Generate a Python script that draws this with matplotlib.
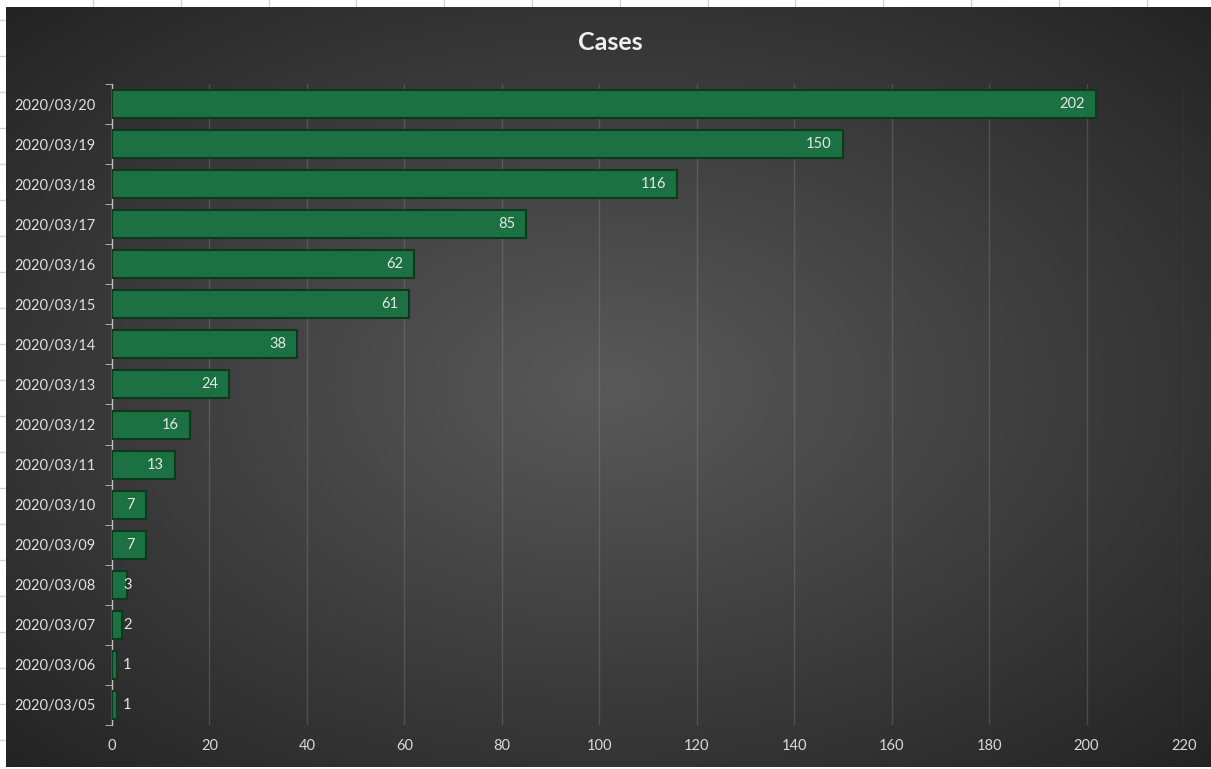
import matplotlib.pyplot as plt
import numpy as np

plt.rcParams['font.family'] = ['Lato', 'DejaVu Sans']

# data
dates = ['2020/03/05', '2020/03/06', '2020/03/07', '2020/03/08', '2020/03/09',
         '2020/03/10', '2020/03/11', '2020/03/12', '2020/03/13', '2020/03/14',
         '2020/03/15', '2020/03/16', '2020/03/17', '2020/03/18', '2020/03/19',
         '2020/03/20']
cases = [1, 1, 2, 3, 7, 7, 13, 16, 24, 38, 61, 62, 85, 116, 150, 202]
x_ticks = list(range(0, 221, 20))

W, H = 1211, 769
fig = plt.figure(figsize=(W / 100, H / 100), dpi=100)
fig.patch.set_facecolor('white')

# spreadsheet cells peeking out around the chart
sheet = fig.add_axes([0, 0, 1, 1])
sheet.set_xlim(0, W)
sheet.set_ylim(H, 0)
sheet.axis('off')
for gx in np.arange(93, W, 87.8):
    sheet.plot([gx, gx], [0, 8], color='#d4d4d4', lw=1)
for gy in np.arange(20, H, 36):
    sheet.plot([0, 6], [gy, gy], color='#d4d4d4', lw=1)

# dark radial gradient chart background
bg = fig.add_axes([6 / W, 2 / H, (W - 6) / W, (H - 9) / H])
yy, xx = np.mgrid[-1:1:300j, -1:1:470j]
r = np.sqrt(xx ** 2 + yy ** 2) / np.sqrt(2)
shade = 0.35 - 0.21 * r
bg.imshow(np.dstack([shade, shade, shade]), aspect='auto', extent=[0, 1, 0, 1])
bg.axis('off')

ax = fig.add_axes([112 / W, 1 - 725 / H, (1184 - 112) / W, (725 - 84) / H])
ax.patch.set_alpha(0)

y = np.arange(len(dates))
ax.barh(y, cases, height=0.7, color='#1b7141', edgecolor='#0d3a1f', linewidth=1.5, zorder=3)

for i, v in enumerate(cases):
    if v > 5:
        ax.annotate(str(v), (v, i), xytext=(-8, 0), textcoords='offset points',
                    ha='right', va='center', color='#e6e6e6', fontsize=10.5, zorder=4)
    else:
        # tiny bars: excel pushes the label just past the axis
        ax.annotate(str(v), (0, i), xytext=(8, 0), textcoords='offset points',
                    ha='left', va='center', color='#e6e6e6', fontsize=10.5, zorder=4)

ax.set_xlim(0, 220)
ax.set_ylim(-0.5, len(dates) - 0.5)
ax.set_xticks(x_ticks)
ax.set_yticks(y)
ax.set_yticklabels(dates)
ax.set_yticks(np.arange(-0.5, len(dates), 1), minor=True)
ax.tick_params(axis='y', which='major', length=0, pad=12, labelsize=10.5, labelcolor='#e0e0e0')
ax.tick_params(axis='y', which='minor', length=5, color='#bfbfbf', direction='out')
ax.tick_params(axis='x', length=0, pad=10, labelsize=10.5, labelcolor='#d9d9d9')

ax.grid(axis='x', color='#9a9a9a', alpha=0.28, lw=1, zorder=1)
for s in ['top', 'right', 'bottom']:
    ax.spines[s].set_visible(False)
ax.spines['left'].set_color('#bfbfbf')
ax.spines['left'].set_linewidth(1)

fig.text(610 / W, 1 - 42 / H, 'Cases', ha='center', va='center',
         color='#f0f0f0', fontsize=18, fontweight='bold')

fig.savefig('out.png', dpi=100)
